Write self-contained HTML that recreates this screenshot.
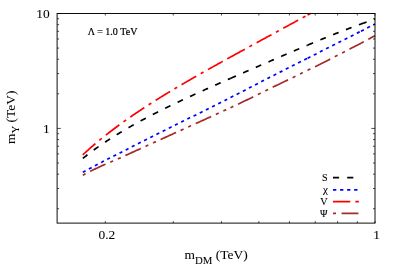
<!DOCTYPE html>
<html><head><meta charset="utf-8"><style>
html,body{margin:0;padding:0;background:#fff;}
svg{display:block;will-change:transform;}
text{font-family:"Liberation Serif",serif;fill:#000;}
</style></head><body>
<svg width="399" height="279" viewBox="0 0 399 279">
<rect width="399" height="279" fill="#fff"/>
<g fill="none" stroke-linecap="butt" stroke-linejoin="round">
<path d="M82.80,154.87 L83.80,153.93 L84.80,153.00 L85.80,152.08 L86.80,151.17 L87.80,150.27 L88.80,149.37 L89.80,148.48 L90.80,147.60 L91.80,146.72 L92.80,145.85 L93.80,144.99 L94.80,144.14 L95.80,143.29 L96.80,142.45 L97.80,141.61 L98.80,140.78 L99.80,139.95 L100.80,139.14 L101.80,138.32 L102.80,137.51 L103.80,136.71 L104.80,135.91 L105.80,135.12 L106.80,134.33 L107.80,133.55 L108.80,132.77 L109.80,132.00 L110.80,131.23 L111.80,130.46 L112.80,129.70 L113.80,128.95 L114.80,128.20 L115.80,127.45 L116.80,126.71 L117.80,125.97 L118.80,125.23 L119.80,124.50 L120.80,123.77 L121.80,123.05 L122.80,122.33 L123.80,121.61 L124.80,120.90 L125.80,120.19 L126.80,119.48 L127.80,118.78 L128.80,118.08 L129.80,117.38 L130.80,116.69 L131.80,116.00 L132.80,115.31 L133.80,114.63 L134.80,113.95 L135.80,113.27 L136.80,112.59 L137.80,111.92 L138.80,111.25 L139.80,110.59 L140.80,109.92 L141.80,109.26 L142.80,108.60 L143.80,107.95 L144.80,107.29 L145.80,106.64 L146.80,105.99 L147.80,105.35 L148.80,104.70 L149.80,104.06 L150.80,103.42 L151.80,102.78 L152.80,102.15 L153.80,101.52 L154.80,100.89 L155.80,100.26 L156.80,99.63 L157.80,99.01 L158.80,98.39 L159.80,97.77 L160.80,97.15 L161.80,96.53 L162.80,95.92 L163.80,95.30 L164.80,94.69 L165.80,94.08 L166.80,93.47 L167.80,92.87 L168.80,92.26 L169.80,91.66 L170.80,91.06 L171.80,90.46 L172.80,89.86 L173.80,89.27 L174.80,88.67 L175.80,88.08 L176.80,87.49 L177.80,86.89 L178.80,86.30 L179.80,85.72 L180.80,85.13 L181.80,84.54 L182.80,83.96 L183.80,83.38 L184.80,82.79 L185.80,82.21 L186.80,81.63 L187.80,81.05 L188.80,80.48 L189.80,79.90 L190.80,79.33 L191.80,78.75 L192.80,78.18 L193.80,77.60 L194.80,77.03 L195.80,76.46 L196.80,75.89 L197.80,75.32 L198.80,74.76 L199.80,74.19 L200.80,73.62 L201.80,73.06 L202.80,72.49 L203.80,71.93 L204.80,71.36 L205.80,70.80 L206.80,70.24 L207.80,69.68 L208.80,69.12 L209.80,68.55 L210.80,68.00 L211.80,67.44 L212.80,66.88 L213.80,66.32 L214.80,65.76 L215.80,65.21 L216.80,64.65 L217.80,64.09 L218.80,63.54 L219.80,62.98 L220.80,62.43 L221.80,61.87 L222.80,61.32 L223.80,60.77 L224.80,60.21 L225.80,59.66 L226.80,59.11 L227.80,58.56 L228.80,58.01 L229.80,57.45 L230.00,57.34" stroke="#ff0000" stroke-width="1.7" stroke-dasharray="16.96 5.12 3.16 5.12"/>
<path d="M230.00,57.34 L231.00,56.79 L232.00,56.24 L233.00,55.69 L234.00,55.14 L235.00,54.59 L236.00,54.04 L237.00,53.49 L238.00,52.94 L239.00,52.40 L240.00,51.85 L241.00,51.30 L242.00,50.75 L243.00,50.20 L244.00,49.66 L245.00,49.11 L246.00,48.56 L247.00,48.01 L248.00,47.47 L249.00,46.92 L250.00,46.37 L251.00,45.83 L252.00,45.28 L253.00,44.73 L254.00,44.19 L255.00,43.64 L256.00,43.09 L257.00,42.55 L258.00,42.00 L259.00,41.46 L260.00,40.91 L261.00,40.36 L262.00,39.82 L263.00,39.27 L264.00,38.73 L265.00,38.18 L266.00,37.64 L267.00,37.09 L268.00,36.55 L269.00,36.00 L270.00,35.46 L271.00,34.91 L272.00,34.37 L273.00,33.83 L274.00,33.28 L275.00,32.74 L276.00,32.19 L277.00,31.65 L278.00,31.11 L279.00,30.56 L280.00,30.02 L281.00,29.48 L282.00,28.93 L283.00,28.39 L284.00,27.85 L285.00,27.30 L286.00,26.76 L287.00,26.22 L288.00,25.68 L289.00,25.13 L290.00,24.59 L291.00,24.05 L292.00,23.51 L293.00,22.97 L294.00,22.43 L295.00,21.88 L296.00,21.34 L297.00,20.80 L298.00,20.26 L299.00,19.72 L300.00,19.18 L301.00,18.64 L302.00,18.10 L303.00,17.57 L304.00,17.03 L305.00,16.49 L306.00,15.95 L307.00,15.41 L307.60,15.09" stroke="#ff0000" stroke-width="1.7" stroke-dasharray="16.96 5.12 3.16 5.12"/>
<path d="M307.60,15.09 L308.60,14.55 L309.60,14.02 L310.55,13.51" stroke="#ff0000" stroke-width="1.7" stroke-dasharray="16.96 5.12 3.16 5.12"/>
<path d="M82.80,158.45 L83.80,157.64 L84.80,156.84 L85.80,156.05 L86.80,155.27 L87.80,154.50 L88.80,153.73 L89.80,152.97 L90.80,152.22 L91.80,151.48 L92.80,150.74 L93.80,150.00 L94.80,149.28 L95.80,148.56 L96.80,147.85 L97.80,147.14 L98.80,146.44 L99.80,145.74 L100.80,145.05 L101.80,144.36 L102.80,143.68 L103.80,143.01 L104.80,142.34 L105.80,141.67 L106.80,141.01 L107.80,140.36 L108.80,139.71 L109.80,139.06 L110.80,138.42 L111.80,137.78 L112.80,137.15 L113.80,136.52 L114.80,135.89 L115.80,135.27 L116.80,134.65 L117.80,134.04 L118.80,133.43 L119.80,132.82 L120.80,132.22 L121.80,131.62 L122.80,131.02 L123.80,130.43 L124.80,129.84 L125.80,129.26 L126.80,128.67 L127.80,128.09 L128.80,127.52 L129.80,126.95 L130.80,126.38 L131.80,125.81 L132.80,125.24 L133.80,124.68 L134.80,124.13 L135.80,123.57 L136.80,123.02 L137.80,122.47 L138.80,121.92 L139.80,121.38 L140.80,120.83 L141.80,120.29 L142.80,119.76 L143.80,119.22 L144.80,118.69 L145.80,118.16 L146.80,117.63 L147.80,117.11 L148.80,116.58 L149.80,116.06 L150.80,115.54 L151.80,115.03 L152.80,114.51 L153.80,114.00 L154.80,113.49 L155.80,112.98 L156.80,112.47 L157.80,111.97 L158.80,111.46 L159.80,110.96 L160.80,110.46 L161.80,109.96 L162.80,109.47 L163.80,108.97 L164.80,108.48 L165.80,107.99 L166.80,107.50 L167.80,107.01 L168.80,106.53 L169.80,106.04 L170.80,105.56 L171.80,105.07 L172.80,104.59 L173.80,104.11 L174.80,103.64 L175.80,103.16 L176.80,102.68 L177.80,102.21 L178.80,101.74 L179.80,101.26 L180.80,100.79 L181.80,100.32 L182.80,99.85 L183.80,99.39 L184.80,98.92 L185.80,98.46 L186.80,97.99 L187.80,97.53 L188.80,97.07 L189.80,96.60 L190.80,96.14 L191.80,95.68 L192.80,95.23 L193.80,94.77 L194.80,94.31 L195.80,93.85 L196.80,93.40 L197.80,92.94 L198.80,92.49 L199.80,92.04 L200.80,91.59 L201.80,91.13 L202.80,90.68 L203.80,90.23 L204.80,89.78 L205.80,89.33 L206.80,88.88 L207.80,88.44 L208.80,87.99 L209.80,87.54 L210.80,87.10 L211.80,86.65 L212.80,86.20 L213.80,85.76 L214.80,85.32 L215.80,84.87 L216.80,84.43 L217.80,83.98 L218.80,83.54 L219.80,83.10 L220.80,82.66 L221.80,82.22 L222.80,81.78 L223.80,81.33 L224.80,80.89 L225.80,80.45 L226.80,80.01 L227.80,79.57 L228.80,79.14 L229.80,78.70 L230.50,78.39" stroke="#000" stroke-width="1.7" stroke-dasharray="5.92 7.88"/>
<path d="M230.50,78.39 L231.50,77.95 L232.50,77.51 L233.50,77.07 L234.50,76.64 L235.50,76.20 L236.50,75.76 L237.50,75.32 L238.50,74.89 L239.50,74.45 L240.50,74.01 L241.50,73.58 L242.50,73.14 L243.50,72.71 L244.50,72.27 L245.50,71.84 L246.50,71.40 L247.50,70.96 L248.50,70.53 L249.50,70.09 L250.50,69.66 L251.50,69.23 L252.50,68.79 L253.50,68.36 L254.50,67.92 L255.50,67.49 L256.50,67.05 L257.50,66.62 L258.50,66.19 L259.50,65.75 L260.50,65.32 L261.50,64.89 L262.50,64.45 L263.50,64.02 L264.50,63.59 L265.50,63.15 L266.50,62.72 L267.50,62.29 L268.50,61.86 L269.50,61.43 L270.50,60.99 L271.50,60.56 L272.50,60.13 L273.50,59.70 L274.50,59.27 L275.50,58.84 L276.50,58.41 L277.50,57.98 L278.50,57.54 L279.50,57.11 L280.50,56.68 L281.50,56.25 L282.50,55.82 L283.50,55.40 L284.50,54.97 L285.50,54.54 L286.50,54.11 L287.50,53.68 L288.50,53.25 L289.50,52.82 L290.50,52.40 L291.50,51.97 L292.50,51.54 L293.50,51.12 L294.50,50.69 L295.50,50.26 L296.50,49.84 L297.50,49.41 L298.50,48.99 L299.50,48.56 L300.50,48.14 L301.50,47.72 L302.50,47.29 L303.50,46.87 L304.50,46.45 L305.50,46.03 L306.50,45.61 L307.50,45.19 L307.60,45.14" stroke="#000" stroke-width="1.7" stroke-dasharray="5.92 7.88"/>
<path d="M307.60,45.14 L308.60,44.72 L309.60,44.31 L310.60,43.89 L311.60,43.47 L312.60,43.05 L313.60,42.63 L314.60,42.22 L315.60,41.80 L316.60,41.39 L317.60,40.97 L318.60,40.56 L319.60,40.15 L320.60,39.73 L321.60,39.32 L322.60,38.91 L323.60,38.50 L324.60,38.09 L325.60,37.69 L326.60,37.28 L327.60,36.87 L328.60,36.47 L329.60,36.06 L330.60,35.66 L331.60,35.26 L332.60,34.86 L333.60,34.46 L334.60,34.06 L335.60,33.66 L336.60,33.26 L337.60,32.87 L338.60,32.47 L339.60,32.08 L340.60,31.69 L341.60,31.29 L342.60,30.91 L343.60,30.52 L344.60,30.13 L345.60,29.74 L346.60,29.36 L347.60,28.98 L348.60,28.60 L349.60,28.22 L350.60,27.84 L351.60,27.46 L352.60,27.09 L353.60,26.71 L354.60,26.34 L355.60,25.97 L356.60,25.60 L357.60,25.24 L358.60,24.87 L359.60,24.51 L360.60,24.15 L361.00,24.00" stroke="#000" stroke-width="1.7" stroke-dasharray="5.92 7.88"/>
<path d="M361.00,24.00 L362.00,23.64 L363.00,23.29 L364.00,22.93 L365.00,22.58 L366.00,22.23 L367.00,21.88 L368.00,21.53 L369.00,21.19 L370.00,20.85 L371.00,20.51 L372.00,20.17 L373.00,19.83 L374.00,19.50 L375.00,19.17" stroke="#000" stroke-width="1.7" stroke-dasharray="5.92 7.88"/>
<path d="M82.80,172.26 L83.80,171.70 L84.80,171.15 L85.80,170.61 L86.80,170.06 L87.80,169.52 L88.80,168.98 L89.80,168.44 L90.80,167.91 L91.80,167.38 L92.80,166.85 L93.80,166.32 L94.80,165.79 L95.80,165.26 L96.80,164.74 L97.80,164.22 L98.80,163.70 L99.80,163.18 L100.80,162.66 L101.80,162.14 L102.80,161.62 L103.80,161.11 L104.80,160.59 L105.80,160.08 L106.80,159.56 L107.80,159.05 L108.80,158.54 L109.80,158.03 L110.80,157.51 L111.80,157.00 L112.80,156.49 L113.80,155.98 L114.80,155.48 L115.80,154.97 L116.80,154.46 L117.80,153.95 L118.80,153.44 L119.80,152.94 L120.80,152.43 L121.80,151.92 L122.80,151.41 L123.80,150.91 L124.80,150.40 L125.80,149.90 L126.80,149.39 L127.80,148.89 L128.80,148.38 L129.80,147.87 L130.80,147.37 L131.80,146.86 L132.80,146.36 L133.80,145.85 L134.80,145.35 L135.80,144.85 L136.80,144.34 L137.80,143.84 L138.80,143.33 L139.80,142.83 L140.80,142.32 L141.80,141.82 L142.80,141.32 L143.80,140.81 L144.80,140.31 L145.80,139.80 L146.80,139.30 L147.80,138.80 L148.80,138.29 L149.80,137.79 L150.80,137.28 L151.80,136.78 L152.80,136.28 L153.80,135.77 L154.80,135.27 L155.80,134.77 L156.80,134.26 L157.80,133.76 L158.80,133.26 L159.80,132.75 L160.80,132.25 L161.80,131.74 L162.80,131.24 L163.80,130.74 L164.80,130.23 L165.80,129.73 L166.80,129.23 L167.80,128.72 L168.80,128.22 L169.80,127.71 L170.80,127.21 L171.80,126.71 L172.80,126.20 L173.80,125.70 L174.80,125.20 L175.80,124.69 L176.80,124.19 L177.80,123.69 L178.80,123.18 L179.80,122.68 L180.80,122.19 L181.80,121.71 L182.80,121.22 L183.80,120.74 L184.80,120.26 L185.80,119.77 L186.80,119.29 L187.80,118.80 L188.80,118.32 L189.80,117.84 L190.80,117.35 L191.80,116.87 L192.80,116.38 L193.80,115.90 L194.80,115.42 L195.80,114.93 L196.80,114.45 L197.80,113.96 L198.80,113.48 L199.80,113.00 L200.80,112.50 L201.80,111.99 L202.80,111.49 L203.80,110.98 L204.80,110.48 L205.80,109.98 L206.80,109.47 L207.80,108.97 L208.80,108.46 L209.80,107.96 L210.80,107.46 L211.80,106.95 L212.80,106.45 L213.80,105.94 L214.80,105.44 L215.80,104.94 L216.80,104.43 L217.80,103.93 L218.80,103.42 L219.80,102.92 L220.80,102.41 L221.80,101.91 L222.80,101.41 L223.80,100.90 L224.80,100.40 L225.80,99.89 L226.80,99.39 L227.80,98.88 L228.80,98.38 L229.80,97.87 L230.50,97.52" stroke="#0000ff" stroke-width="1.7" stroke-dasharray="3.16 3.74"/>
<path d="M230.50,97.52 L231.50,97.02 L232.50,96.51 L233.50,96.01 L234.50,95.50 L235.50,95.00 L236.50,94.49 L237.50,93.99 L238.50,93.49 L239.50,92.98 L240.50,92.47 L241.50,91.95 L242.50,91.43 L243.50,90.92 L244.50,90.40 L245.50,89.88 L246.50,89.36 L247.50,88.84 L248.50,88.33 L249.50,87.81 L250.50,87.29 L251.50,86.77 L252.50,86.25 L253.50,85.73 L254.50,85.22 L255.50,84.70 L256.50,84.18 L257.50,83.66 L258.50,83.14 L259.50,82.63 L260.50,82.11 L261.50,81.59 L262.50,81.07 L263.50,80.55 L264.50,80.03 L265.50,79.52 L266.50,79.00 L267.50,78.48 L268.50,77.96 L269.50,77.44 L270.50,76.93 L271.50,76.43 L272.50,75.92 L273.50,75.42 L274.50,74.91 L275.50,74.40 L276.50,73.90 L277.50,73.39 L278.50,72.89 L279.50,72.38 L280.50,71.88 L281.50,71.37 L282.50,70.87 L283.50,70.36 L284.50,69.86 L285.50,69.35 L286.50,68.85 L287.50,68.34 L288.50,67.84 L289.50,67.33 L290.50,66.83 L291.50,66.32 L292.50,65.81 L293.50,65.31 L294.50,64.80 L295.50,64.30 L296.50,63.79 L297.50,63.29 L298.50,62.78 L299.50,62.28 L300.50,61.77 L301.50,61.27 L302.50,60.76 L303.50,60.25 L304.50,59.75 L305.50,59.24 L306.50,58.74 L307.50,58.23 L307.60,58.18" stroke="#0000ff" stroke-width="1.7" stroke-dasharray="3.16 3.74"/>
<path d="M307.60,58.18 L308.60,57.68 L309.60,57.17 L310.60,56.66 L311.60,56.16 L312.60,55.65 L313.60,55.15 L314.60,54.64 L315.60,54.14 L316.60,53.63 L317.60,53.12 L318.60,52.62 L319.60,52.11 L320.60,51.61 L321.60,51.10 L322.60,50.59 L323.60,50.09 L324.60,49.58 L325.60,49.08 L326.60,48.57 L327.60,48.06 L328.60,47.56 L329.60,47.05 L330.60,46.55 L331.60,46.04 L332.60,45.53 L333.60,45.03 L334.60,44.52 L335.60,44.02 L336.60,43.51 L337.60,43.00 L338.60,42.50 L339.60,41.99 L340.60,41.49 L341.60,40.98 L342.60,40.47 L343.60,39.97 L344.60,39.46 L345.60,38.95 L346.60,38.45 L347.60,37.94 L348.60,37.44 L349.60,36.93 L350.60,36.42 L351.60,35.92 L352.60,35.41 L353.60,34.90 L354.60,34.40 L355.60,33.89 L356.60,33.38 L357.60,32.88 L358.60,32.37 L359.60,31.86 L360.60,31.36 L361.00,31.16" stroke="#0000ff" stroke-width="1.7" stroke-dasharray="3.16 3.74"/>
<path d="M361.00,31.16 L362.00,30.65 L363.00,30.14 L364.00,29.64 L365.00,29.13 L366.00,28.62 L367.00,28.12 L368.00,27.61 L369.00,27.10 L370.00,26.60 L371.00,26.09 L372.00,25.58 L373.00,25.08 L374.00,24.57 L375.00,24.06" stroke="#0000ff" stroke-width="1.7" stroke-dasharray="3.16 3.74"/>
<path d="M82.80,175.15 L83.80,174.63 L84.80,174.11 L85.80,173.60 L86.80,173.09 L87.80,172.58 L88.80,172.08 L89.80,171.58 L90.80,171.08 L91.80,170.59 L92.80,170.10 L93.80,169.60 L94.80,169.12 L95.80,168.63 L96.80,168.14 L97.80,167.66 L98.80,167.18 L99.80,166.70 L100.80,166.25 L101.80,165.81 L102.80,165.38 L103.80,164.94 L104.80,164.51 L105.80,164.08 L106.80,163.64 L107.80,163.21 L108.80,162.78 L109.80,162.35 L110.80,161.93 L111.80,161.50 L112.80,161.07 L113.80,160.65 L114.80,160.22 L115.80,159.80 L116.80,159.37 L117.80,158.95 L118.80,158.53 L119.80,158.10 L120.80,157.65 L121.80,157.19 L122.80,156.73 L123.80,156.27 L124.80,155.81 L125.80,155.35 L126.80,154.89 L127.80,154.43 L128.80,153.97 L129.80,153.51 L130.80,153.05 L131.80,152.60 L132.80,152.14 L133.80,151.68 L134.80,151.22 L135.80,150.77 L136.80,150.31 L137.80,149.86 L138.80,149.40 L139.80,148.94 L140.80,148.49 L141.80,148.03 L142.80,147.58 L143.80,147.12 L144.80,146.67 L145.80,146.21 L146.80,145.76 L147.80,145.30 L148.80,144.85 L149.80,144.40 L150.80,143.94 L151.80,143.49 L152.80,143.03 L153.80,142.58 L154.80,142.13 L155.80,141.67 L156.80,141.22 L157.80,140.77 L158.80,140.31 L159.80,139.86 L160.80,139.41 L161.80,138.96 L162.80,138.50 L163.80,138.05 L164.80,137.60 L165.80,137.14 L166.80,136.69 L167.80,136.24 L168.80,135.78 L169.80,135.33 L170.80,134.88 L171.80,134.43 L172.80,133.97 L173.80,133.52 L174.80,133.07 L175.80,132.62 L176.80,132.16 L177.80,131.71 L178.80,131.26 L179.80,130.80 L180.80,130.35 L181.80,129.90 L182.80,129.44 L183.80,128.99 L184.80,128.54 L185.80,128.09 L186.80,127.63 L187.80,127.18 L188.80,126.72 L189.80,126.27 L190.80,125.82 L191.80,125.36 L192.80,124.91 L193.80,124.46 L194.80,124.00 L195.80,123.55 L196.80,123.09 L197.80,122.64 L198.80,122.19 L199.80,121.73 L200.80,121.28 L201.80,120.82 L202.80,120.37 L203.80,119.91 L204.80,119.46 L205.80,119.00 L206.80,118.55 L207.80,118.09 L208.80,117.63 L209.80,117.18 L210.80,116.72 L211.80,116.27 L212.80,115.81 L213.80,115.35 L214.80,114.90 L215.80,114.44 L216.80,113.98 L217.80,113.52 L218.80,113.07 L219.80,112.61 L220.80,112.15 L221.80,111.69 L222.80,111.23 L223.80,110.78 L224.80,110.32 L225.80,109.86 L226.80,109.40 L227.80,108.94 L228.80,108.48 L229.80,108.02 L230.50,107.70" stroke="#a52a2a" stroke-width="1.7" stroke-dasharray="3.16 5.12 16.96 5.12 3.16 5.12"/>
<path d="M230.50,107.70 L231.50,107.24 L232.50,106.78 L233.50,106.31 L234.50,105.85 L235.50,105.39 L236.50,104.93 L237.50,104.47 L238.50,104.01 L239.50,103.54 L240.50,103.07 L241.50,102.58 L242.50,102.09 L243.50,101.60 L244.50,101.11 L245.50,100.61 L246.50,100.12 L247.50,99.63 L248.50,99.14 L249.50,98.65 L250.50,98.15 L251.50,97.66 L252.50,97.17 L253.50,96.67 L254.50,96.18 L255.50,95.69 L256.50,95.19 L257.50,94.70 L258.50,94.20 L259.50,93.71 L260.50,93.21 L261.50,92.71 L262.50,92.22 L263.50,91.72 L264.50,91.22 L265.50,90.72 L266.50,90.22 L267.50,89.72 L268.50,89.23 L269.50,88.73 L270.50,88.24 L271.50,87.77 L272.50,87.29 L273.50,86.82 L274.50,86.34 L275.50,85.87 L276.50,85.39 L277.50,84.91 L278.50,84.44 L279.50,83.96 L280.50,83.48 L281.50,83.00 L282.50,82.52 L283.50,82.05 L284.50,81.57 L285.50,81.09 L286.50,80.61 L287.50,80.12 L288.50,79.64 L289.50,79.16 L290.50,78.68 L291.50,78.20 L292.50,77.71 L293.50,77.23 L294.50,76.74 L295.50,76.26 L296.50,75.77 L297.50,75.29 L298.50,74.80 L299.50,74.31 L300.50,73.83 L301.50,73.34 L302.50,72.85 L303.50,72.36 L304.50,71.87 L305.50,71.38 L306.50,70.89 L307.50,70.40 L307.60,70.35" stroke="#a52a2a" stroke-width="1.7" stroke-dasharray="3.16 5.12 16.96 5.12 3.16 5.12"/>
<path d="M307.60,70.35 L308.60,69.86 L309.60,69.36 L310.60,68.87 L311.60,68.38 L312.60,67.88 L313.60,67.39 L314.60,66.89 L315.60,66.40 L316.60,65.90 L317.60,65.40 L318.60,64.90 L319.60,64.40 L320.60,63.91 L321.60,63.41 L322.60,62.91 L323.60,62.40 L324.60,61.90 L325.60,61.40 L326.60,60.90 L327.60,60.39 L328.60,59.89 L329.60,59.38 L330.60,58.88 L331.60,58.37 L332.60,57.87 L333.60,57.36 L334.60,56.85 L335.60,56.34 L336.60,55.83 L337.60,55.32 L338.60,54.81 L339.60,54.30 L340.60,53.79 L341.60,53.27 L342.60,52.76 L343.60,52.25 L344.60,51.73 L345.60,51.21 L346.60,50.70 L347.60,50.18 L348.60,49.66 L349.60,49.14 L350.60,48.62 L351.60,48.10 L352.60,47.58 L353.60,47.06 L354.60,46.54 L355.60,46.02 L356.60,45.49 L357.60,44.97 L358.60,44.44 L359.60,43.91 L360.60,43.39 L361.00,43.18" stroke="#a52a2a" stroke-width="1.7" stroke-dasharray="3.16 5.12 16.96 5.12 3.16 5.12"/>
<path d="M361.00,43.18 L362.00,42.65 L363.00,42.12 L364.00,41.59 L365.00,41.06 L366.00,40.53 L367.00,40.00 L368.00,39.46 L369.00,38.93 L370.00,38.39 L371.00,37.86 L372.00,37.32 L373.00,36.78 L374.00,36.25 L375.00,35.71" stroke="#a52a2a" stroke-width="1.7" stroke-dasharray="3.16 5.12 16.96 5.12 3.16 5.12"/>
</g>
<g fill="none" stroke-width="1.7">
<path d="M333,177.6 h25" stroke="#000" stroke-dasharray="6.1 8.1"/>
<path d="M333,189.8 h25" stroke="#0000ff" stroke-dasharray="3.3 3.75"/>
<path d="M333,201.6 h25.9" stroke="#ff0000" stroke-dasharray="17.3 5.1 3.5 5"/>
<path d="M333,213.4 h25.4" stroke="#a52a2a" stroke-dasharray="3.0 5.6 17 5"/>
</g>
<g font-size="10.2px" text-anchor="end" stroke="#000" stroke-width="0.1">
<text x="327.6" y="180.8">S</text>
<text x="327.9" y="192.7" font-size="11px">χ</text>
<text x="327.6" y="204.8">V</text>
<text x="327.6" y="216.6">Ψ</text>
</g>
<text x="87.7" y="34.8" font-size="10px" stroke="#000" stroke-width="0.2">Λ = 1.0 TeV</text>
<g fill="none" stroke="#000" stroke-width="0.7"><path d="M57.10,208.74 h2.0"/><path d="M375.00,208.74 h-2.0"/><path d="M57.10,188.51 h2.0"/><path d="M375.00,188.51 h-2.0"/><path d="M57.10,174.15 h2.0"/><path d="M375.00,174.15 h-2.0"/><path d="M57.10,163.01 h2.0"/><path d="M375.00,163.01 h-2.0"/><path d="M57.10,153.91 h2.0"/><path d="M375.00,153.91 h-2.0"/><path d="M57.10,146.22 h2.0"/><path d="M375.00,146.22 h-2.0"/><path d="M57.10,139.55 h2.0"/><path d="M375.00,139.55 h-2.0"/><path d="M57.10,133.68 h2.0"/><path d="M375.00,133.68 h-2.0"/><path d="M57.10,128.42 h3.7"/><path d="M375.00,128.42 h-3.7"/><path d="M57.10,93.82 h2.0"/><path d="M375.00,93.82 h-2.0"/><path d="M57.10,73.59 h2.0"/><path d="M375.00,73.59 h-2.0"/><path d="M57.10,59.23 h2.0"/><path d="M375.00,59.23 h-2.0"/><path d="M57.10,48.09 h2.0"/><path d="M375.00,48.09 h-2.0"/><path d="M57.10,38.99 h2.0"/><path d="M375.00,38.99 h-2.0"/><path d="M57.10,31.30 h2.0"/><path d="M375.00,31.30 h-2.0"/><path d="M57.10,24.64 h2.0"/><path d="M375.00,24.64 h-2.0"/><path d="M57.10,18.76 h2.0"/><path d="M375.00,18.76 h-2.0"/><path d="M57.10,13.50 h3.7"/><path d="M375.00,13.50 h-3.7"/><path d="M105.31,223.10 v-2.0"/><path d="M105.31,13.50 v2.0"/><path d="M173.25,223.10 v-2.0"/><path d="M173.25,13.50 v2.0"/><path d="M221.46,223.10 v-2.0"/><path d="M221.46,13.50 v2.0"/><path d="M258.85,223.10 v-2.0"/><path d="M258.85,13.50 v2.0"/><path d="M289.40,223.10 v-2.0"/><path d="M289.40,13.50 v2.0"/><path d="M315.23,223.10 v-2.0"/><path d="M315.23,13.50 v2.0"/><path d="M337.61,223.10 v-2.0"/><path d="M337.61,13.50 v2.0"/><path d="M357.34,223.10 v-2.0"/><path d="M357.34,13.50 v2.0"/><path d="M375.00,223.10 v-2.0"/><path d="M375.00,13.50 v2.0"/></g>
<rect x="57.1" y="13.5" width="317.9" height="209.6" fill="none" stroke="#000" stroke-width="0.95"/>
<g font-size="13.45px" stroke="#000" stroke-width="0.06">
<text x="49.6" y="18" text-anchor="end">10</text>
<text x="49.6" y="132.7" text-anchor="end">1</text>
<text x="106.9" y="239" text-anchor="middle">0.2</text>
<text x="376.5" y="239" text-anchor="middle">1</text>
<text x="216.1" y="259.4" text-anchor="middle">m<tspan font-size="10.8px" dy="4.2">DM</tspan><tspan dy="-4.2"> (TeV)</tspan></text>
<text transform="translate(15.2,117.3) rotate(-90)" text-anchor="middle">m<tspan font-size="10.8px" dy="4.2">Y</tspan><tspan dy="-4.2"> (TeV)</tspan></text>
</g>
</svg>
</body></html>
